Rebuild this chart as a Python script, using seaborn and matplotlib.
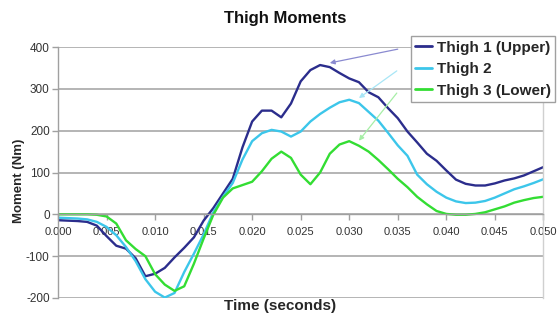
import numpy as np
import pandas as pd
import matplotlib
matplotlib.use('Agg')
import matplotlib.pyplot as plt
import seaborn as sns

# values, one sample per millisecond (0.000 .. 0.050 s)
time_s = [i / 1000 for i in range(51)]

thigh1_upper = [-14, -15, -16, -18, -27, -52, -75, -82, -105, -148,
                -142, -128, -103, -80, -55, -15, 15, 50, 85, 160,
                222, 248, 248, 232, 265, 318, 345, 357, 352, 338,
                325, 316, 292, 280, 254, 230, 198, 172, 145, 128,
                105, 83, 73, 69, 69, 74, 81, 86, 93, 103, 113]

thigh2 = [-8, -9, -10, -12, -18, -30, -50, -78, -112, -155,
          -185, -199, -188, -138, -94, -48, 5, 42, 75, 131,
          175, 194, 202, 198, 186, 198, 222, 240, 255, 268,
          274, 266, 245, 224, 195, 165, 140, 95, 72, 54,
          40, 31, 27, 28, 32, 40, 50, 60, 67, 75, 84]

thigh3_lower = [0, 0, 0, 0, -1, -5, -22, -62, -83, -100,
                -143, -168, -183, -172, -118, -58, -1, 40, 62, 70,
                78, 103, 133, 150, 135, 95, 72, 100, 145, 167,
                175, 164, 150, 130, 108, 85, 65, 42, 24, 8,
                1, -1, -1, 1, 5, 12, 19, 28, 34, 39, 42]

series_names = ['Thigh 1 (Upper)', 'Thigh 2', 'Thigh 3 (Lower)']
series_values = [thigh1_upper, thigh2, thigh3_lower]
series_colors = ['#2b2d8c', '#3cc6ea', '#33dd33']
arrow_colors = ['#8a8ad0', '#a8e6f6', '#a6eea6']

# annotation arrows: sample index of the tip on each curve, and tail point (time, moment)
arrow_tip_idx = [28, 31, 31]
arrow_tip_lift = [10, 12, 12]
arrow_tails = [(0.0350, 395), (0.0349, 343), (0.0349, 290)]

x_ticks = [i * 0.005 for i in range(11)]
y_ticks = [-200, -100, 0, 100, 200, 300, 400]

df = pd.DataFrame({
    'time': time_s * 3,
    'moment': thigh1_upper + thigh2 + thigh3_lower,
    'series': [n for n in series_names for _ in time_s],
})

sns.set_theme(style='white')
plt.rcParams['font.family'] = ['Liberation Sans', 'DejaVu Sans']

fig = plt.figure(figsize=(5.59, 3.18), dpi=100)
ax = fig.add_axes([0.1038, 0.0629, 0.8682, 0.7891])

sns.lineplot(data=df, x='time', y='moment', hue='series',
             palette=dict(zip(series_names, series_colors)),
             linewidth=1.7, ax=ax, legend=False)
for line in ax.get_lines():
    line.set_solid_joinstyle('round')
    line.set_solid_capstyle('round')

ax.set_xlim(0, 0.050)
ax.set_ylim(-200, 400)
ax.set_xticks(x_ticks)
ax.set_xticklabels([f'{t:.3f}' for t in x_ticks])
ax.set_yticks(y_ticks)
ax.set_yticklabels([str(v) for v in y_ticks])

ax.yaxis.grid(True, color='#a8a8a8', linewidth=1.2)
ax.set_axisbelow(True)

ax.spines['bottom'].set_position(('data', 0))
ax.spines['bottom'].set_color('#a0a0a0')
ax.spines['left'].set_color('#a0a0a0')
ax.spines['right'].set_color('#d0d0d0')
ax.spines['top'].set_visible(False)
for s in ax.spines.values():
    s.set_linewidth(1.0)

ax.tick_params(axis='x', direction='out', length=4, width=1, color='#a0a0a0',
               labelsize=8, labelcolor='#333333', pad=5, bottom=True)
ax.tick_params(axis='y', direction='out', length=4, width=1, color='#a0a0a0',
               labelsize=8.5, labelcolor='#333333', pad=2, left=True)

ax.set_xlabel('Time (seconds)', fontsize=11, fontweight='bold')
ax.set_ylabel('Moment (Nm)', fontsize=9.5, fontweight='bold')
ax.xaxis.set_label_coords(0.457, -0.004)
ax.yaxis.set_label_coords(-0.068, 0.466)
fig.text(0.51, 0.943, 'Thigh Moments', ha='center', va='center',
         fontsize=12, fontweight='bold', color='#111111')

for idx, vals, lift, tail, col in zip(arrow_tip_idx, series_values, arrow_tip_lift,
                                       arrow_tails, arrow_colors):
    ax.annotate('', xy=(time_s[idx], vals[idx] + lift), xytext=tail,
                arrowprops=dict(arrowstyle='-|>', color=col, lw=0.9,
                                mutation_scale=7, shrinkA=0, shrinkB=0),
                annotation_clip=False)

handles = [plt.Line2D([], [], color=c, linewidth=2) for c in series_colors]
leg = fig.legend(handles, series_names, loc='upper left',
                 bbox_to_anchor=(0.735, 0.887), bbox_transform=fig.transFigure,
                 frameon=True, fancybox=False, framealpha=1,
                 handlelength=1.1, handletextpad=0.3, labelspacing=0.5,
                 borderpad=0.3, borderaxespad=0,
                 prop={'size': 11, 'weight': 'bold'})
leg.get_frame().set_edgecolor('#a0a0a0')
leg.get_frame().set_linewidth(1.0)

fig.savefig('out.png', dpi=100, facecolor='white')
